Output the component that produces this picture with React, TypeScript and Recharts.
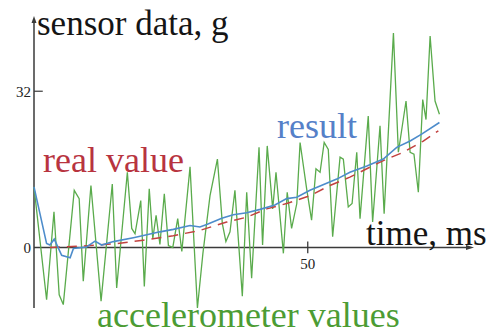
import { LineChart, Line, XAxis, YAxis, ReferenceLine } from 'recharts';

// accelerometer readings (noisy)
const accelTime = [
  0, 2.3, 3.65, 4.6, 5.35, 7.35, 8.25, 9.0, 10.4, 12.25,
  14.3, 15.1, 17.05, 17.85, 18.45, 19.5, 20.15, 21.05, 21.7, 22.3,
  23.0, 23.8, 24.55, 25.35, 26.25, 27.0, 28.5, 29.85, 30.85, 32.15,
  33.5, 34.4, 35.05, 35.8, 36.7, 38.05, 38.85, 39.75, 41.1, 41.75,
  42.6, 43.6, 44.2, 45.55, 46.25, 47.05, 48.0, 48.6, 49.8, 50.7,
  51.5, 52.25, 53.0, 53.75, 54.55, 55.9, 56.5, 57.4, 58.1, 58.95,
  59.55, 61.05, 61.85, 63.2, 63.95, 65.65, 66.55, 67.95, 68.7, 69.4,
  70.2, 71.0, 71.6, 72.35, 73.25, 74.05,
];
const accelValues = [
  12.4, -10.7, 7.3, -9.7, -11.7, 11.7, 10.0, -6.9, 12.7, -11.0,
  13.0, -8.3, 15.4, 3.9, 2.8, 9.6, -8.0, 12.0, 1.8, 6.6,
  0.6, 11.0, 0.4, 0, 5.9, -0.8, 16.5, -12.4, -1.2, 10.6,
  18.1, 4.9, 1.2, 3.2, 11.7, -10.0, 11.3, -6.3, 20.5, 0.5,
  20.8, 7.9, 15.4, -1.2, 11.3, 3.9, 9.0, 21.5, 12.0, 5.6,
  16.1, 15.4, 21.5, 20.1, 2.2, 18.5, 18.1, 8.3, 9.0, 19.5,
  5.9, 26.9, 5.2, 24.9, 6.9, 43.9, 19.5, 30.0, 19.5, 19.1,
  11.3, 30.3, 26.2, 43.3, 30.0, 27.3,
];

// filtered result
const resultTime = [
  0, 2.3, 2.9, 3.7, 5.05, 6.6, 7.2, 9.6, 11.15, 12.35,
  14.5, 18.15, 20.6, 23.0, 25.45, 28.5, 30.3, 31.55, 34.3, 36.4,
  38.85, 41.3, 44.0, 46.15, 48.0, 50.4, 55.3, 57.7, 60.8, 63.8,
  66.25, 68.7, 70.8, 74.05,
];
const resultValues = [
  12.4, 0.8, 0.5, 1.7, -1.6, -2.1, -0.2, 0.1, 1.3, 0.5,
  1.2, 2.0, 2.6, 3.2, 3.7, 4.5, 4.2, 4.7, 6.0, 6.7,
  7.1, 7.8, 8.7, 10.0, 10.3, 11.7, 14.0, 15.4, 16.7, 18.1,
  20.5, 21.8, 23.2, 25.6,
];

// real value
const realTime = [2.9, 8.95, 15.1, 19.95, 25.45, 30.3, 35.2, 38.85, 42.5, 46.15, 50.4, 54.05, 57.7, 63.8, 67.45, 71.1, 73.85];
const realValues = [0, 0.3, 0.8, 1.5, 2.4, 3.5, 5.2, 6.2, 7.9, 9.0, 10.6, 12.7, 14.4, 17.8, 19.5, 21.8, 23.9];

const yTicks = [0, 32];
const xTicks = [50];

const accelData = accelTime.map((t, i) => ({ t, v: accelValues[i] }));
const resultData = resultTime.map((t, i) => ({ t, v: resultValues[i] }));
const realData = realTime.map((t, i) => ({ t, v: realValues[i] }));

const AXIS = '#3a3a3a';
const SERIF = 'Liberation Serif';

const yAxisShape = (p: any) => {
  const top = Math.min(p.y1, p.y2);
  const bottom = Math.max(p.y1, p.y2);
  return (
    <g>
      <line x1={p.x1} y1={top + 2} x2={p.x1} y2={bottom} stroke={AXIS} strokeWidth={1.5} />
      <polygon points={`${p.x1},${top - 2} ${p.x1 - 2.5},${top + 5} ${p.x1 + 2.5},${top + 5}`} fill={AXIS} />
    </g>
  );
};

const xAxisShape = (p: any) => {
  const left = Math.min(p.x1, p.x2);
  const right = Math.max(p.x1, p.x2);
  return (
    <g>
      <line x1={left} y1={p.y1} x2={right - 3} y2={p.y1} stroke={AXIS} strokeWidth={1.5} />
      <polygon points={`${right + 2},${p.y1} ${right - 6},${p.y1 - 2.5} ${right - 6},${p.y1 + 2.5}`} fill={AXIS} />
    </g>
  );
};

const xTickShape = (label: number) => (p: any) => (
  <g>
    <line x1={p.x1} y1={p.y1} x2={p.x2} y2={p.y2} stroke={AXIS} strokeWidth={1.3} />
    <text x={p.x1} y={Math.max(p.y1, p.y2) + 16} textAnchor="middle" fill="#222" fontFamily={SERIF} fontSize={15}>
      {label}
    </text>
  </g>
);

const label = (text: string, x: number, baseline: number, size: number, color: string) => (
  <div
    style={{
      position: 'absolute',
      left: x,
      top: baseline - 0.8375 * size,
      fontFamily: SERIF,
      fontSize: size,
      lineHeight: 1,
      color,
      whiteSpace: 'nowrap',
      pointerEvents: 'none',
    }}
  >
    {text}
  </div>
);

export default function App() {
  return (
    <div style={{ position: 'absolute', left: 0, top: 0, width: 492, height: 334, background: '#fff', overflow: 'hidden' }}>
      <LineChart width={492} height={334} margin={{ top: 18, right: 20, bottom: 26, left: 0 }}>
        <XAxis type="number" dataKey="t" domain={[0, 80]} hide />
        <YAxis
          type="number"
          domain={[-12, 47]}
          ticks={yTicks}
          width={34}
          axisLine={false}
          tickLine={false}
          tickSize={3}
          tickMargin={0}
          tick={{ fontSize: 15, fill: '#222', fontFamily: SERIF }}
        />
        <ReferenceLine x={0} shape={yAxisShape} />
        <ReferenceLine y={0} shape={xAxisShape} />
        <ReferenceLine segment={[{ x: 0, y: 32 }, { x: 1.6, y: 32 }]} stroke={AXIS} strokeWidth={1.2} />
        {xTicks.map((t) => (
          <ReferenceLine key={t} segment={[{ x: t, y: -1.2 }, { x: t, y: 1.2 }]} shape={xTickShape(t)} />
        ))}
        <Line data={accelData} dataKey="v" type="linear" stroke="#5aab4c" strokeWidth={1.3} dot={false} isAnimationActive={false} />
        <Line data={realData} dataKey="v" type="linear" stroke="#c2413f" strokeWidth={1.5} strokeDasharray="10 7" dot={false} isAnimationActive={false} />
        <Line data={resultData} dataKey="v" type="linear" stroke="#4d8ccb" strokeWidth={1.6} dot={false} isAnimationActive={false} />
      </LineChart>
      {label('sensor data, g', 37, 35, 35, '#151515')}
      {label('time, ms', 366, 245, 35, '#151515')}
      {label('real value', 43, 172, 36, '#b8343f')}
      {label('result', 277, 138, 36, '#5580c8')}
      {label('accelerometer values', 97, 327, 36, '#4c9c34')}
    </div>
  );
}
